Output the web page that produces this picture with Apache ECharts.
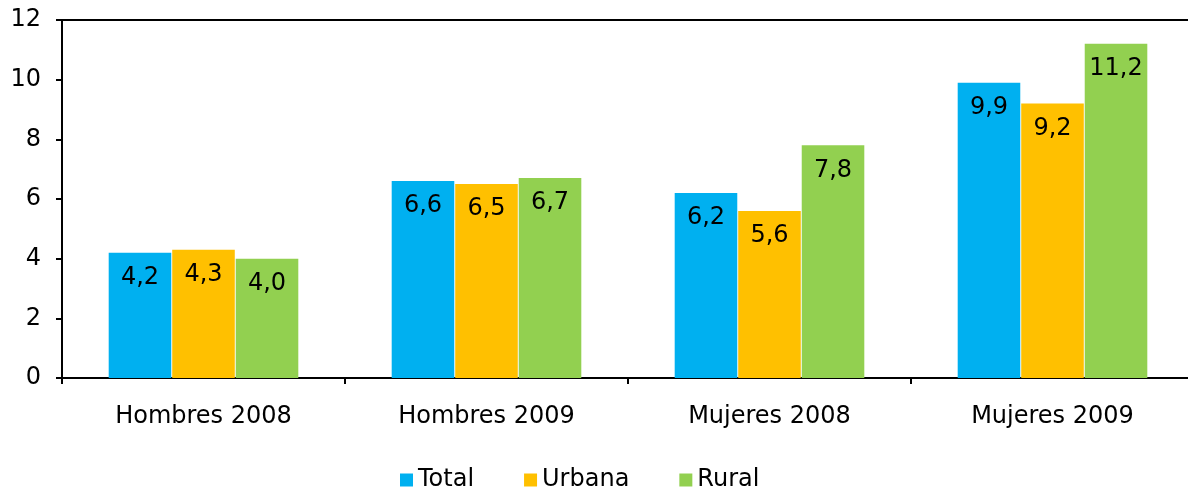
<!DOCTYPE html>
<html>
<head>
<meta charset="utf-8">
<script src="https://cdn.jsdelivr.net/npm/echarts@6/dist/echarts.min.js"></script>
<style>
  html, body { margin: 0; padding: 0; background: #fff; }
  #chart { width: 1188px; height: 491px; }
</style>
</head>
<body>
<div id="chart"></div>
<script>
// Groups along the x axis
const categories = ['Hombres 2008', 'Hombres 2009', 'Mujeres 2008', 'Mujeres 2009'];
// Values per area type
const totalValues = [4.2, 6.6, 6.2, 9.9];
const urbanaValues = [4.3, 6.5, 5.6, 9.2];
const ruralValues = [4.0, 6.7, 7.8, 11.2];
const seriesNames = ['Total', 'Urbana', 'Rural'];
const seriesColors = ['#00B0F0', '#FFC000', '#92D050'];

const FONT = 'DejaVu Sans';

function makeSeries(name, values, color) {
  return {
    name: name,
    type: 'bar',
    data: values,
    barGap: '1.5%',
    barCategoryGap: '33%',
    itemStyle: { color: color },
    label: {
      show: true,
      position: 'insideTop',
      distance: 13,
      color: '#000',
      fontFamily: FONT,
      fontSize: 24,
      formatter: p => p.value.toFixed(1).replace('.', ',')
    }
  };
}

const chart = echarts.init(document.getElementById('chart'), null, { renderer: 'canvas' });
chart.setOption({
  animation: false,
  backgroundColor: '#fff',
  // the plot runs slightly past the right edge of the canvas
  grid: { left: 62, top: 20, width: 1132, bottom: 113, outerBoundsMode: 'none', containLabel: false },
  legend: {
    left: 395,
    top: 463,
    itemWidth: 13,
    itemHeight: 13,
    itemGap: 50,
    icon: 'rect',
    textStyle: { fontFamily: FONT, fontSize: 24, color: '#000' },
    data: seriesNames
  },
  xAxis: [{
    type: 'category',
    data: categories,
    axisLine: { lineStyle: { color: '#000', width: 2 } },
    axisTick: { show: true, length: 6, lineStyle: { color: '#000', width: 2 } },
    axisLabel: { fontFamily: FONT, fontSize: 24, color: '#000', margin: 27 }
  }, {
    type: 'category',
    data: categories,
    position: 'top',
    axisLine: { show: true, lineStyle: { color: '#000', width: 2 } },
    axisTick: { show: false },
    axisLabel: { show: false }
  }],
  yAxis: {
    type: 'value',
    min: 0,
    max: 12,
    interval: 2,
    splitLine: { show: false },
    axisLine: { show: true, lineStyle: { color: '#000', width: 2 } },
    axisTick: { show: true, length: 6, lineStyle: { color: '#000', width: 2 } },
    axisLabel: { fontFamily: FONT, fontSize: 24, color: '#000', margin: 21 }
  },
  series: [
    makeSeries(seriesNames[0], totalValues, seriesColors[0]),
    makeSeries(seriesNames[1], urbanaValues, seriesColors[1]),
    makeSeries(seriesNames[2], ruralValues, seriesColors[2])
  ]
});
</script>
</body>
</html>
